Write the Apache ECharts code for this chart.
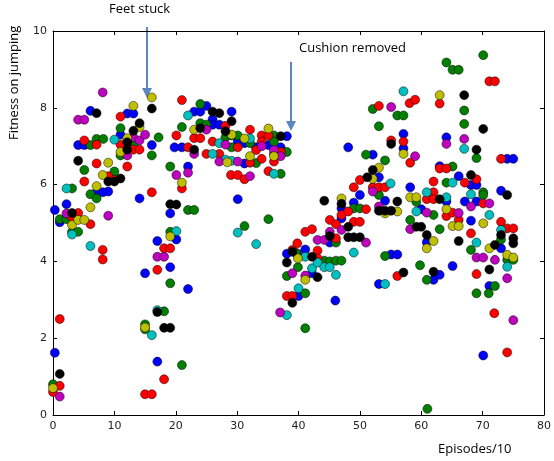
<!DOCTYPE html>
<html>
<head>
<meta charset="utf-8">
<script src="https://cdn.jsdelivr.net/npm/echarts@6/dist/echarts.min.js"></script>
<style>html,body{margin:0;padding:0;background:#fff}#c{width:554px;height:461px}</style>
</head>
<body>
<div id="c"></div>
<script>
const xTicks = [0, 10, 20, 30, 40, 50, 60, 70, 80];
const yTicks = [0, 2, 4, 6, 8, 10];
const xLabel = 'Episodes/10';
const yLabel = 'Fitness on jumping';
const note1 = 'Feet stuck';
const note2 = 'Cushion removed';

const blue = [[0.3,5.34],[0.3,1.62],[1.1,5.02],[2.2,5.49],[3.1,5.04],[4.1,7.03],[5.1,7.03],[6.1,7.92],[7.1,5.8],[8.1,5.8],[9,5.82],[11,7.3],[12.1,7.85],[13.1,7.85],[14.1,5.64],[15,3.69],[16.1,7.03],[17,4.53],[17,1.39],[19.1,5.25],[19.1,3.85],[19.8,6.97],[21,6.97],[20.1,4.57],[22,6.47],[22,3.28],[23,7.9],[24,7.9],[25,8.05],[26,7.7],[26,7.56],[27.1,7.56],[29.1,7.9],[30.1,7.12],[30.1,5.62],[31.2,7.08],[31.2,6.55],[33.1,6.97],[35.1,7.03],[37.1,6.97],[38.1,7.26],[38.1,4.2],[39.8,4.2],[40,3.1],[41.1,4.31],[42.2,3.69],[45.1,4.49],[46,2.98],[47,5.38],[47,5.12],[48.1,6.97],[49,5.53],[50,5.73],[52.1,6.78],[53.1,6.19],[53.1,3.41],[54.1,5.58],[55.1,4.18],[56.1,4.18],[57.1,7.32],[57.1,6.94],[58.2,5.93],[60,5.36],[60.9,4.5],[62,3.52],[63,6.48],[63,3.65],[64.1,7.23],[64.1,5.56],[65.1,3.88],[66.1,6.22],[67.1,5.56],[68.1,5.99],[69,5.99],[68.1,5.06],[69,5.56],[70.1,1.55],[71.1,3.36],[73,5.84],[73,4.34],[74,6.67],[75,6.67]];
const green = [[0,0.8],[1.1,5.1],[2.2,5.1],[3.1,5.9],[3.1,4.77],[4.1,4.77],[5.1,6.38],[6.1,7.03],[6.1,5.75],[7.1,7.19],[7.1,5.64],[8.2,7.19],[10,6.34],[11,7.47],[11,6.76],[12.1,7.03],[13.1,7.03],[15,2.36],[15,2.23],[16.1,6.76],[17.2,7.23],[18.1,2.7],[19.1,6.47],[19.1,4.77],[19.1,3.43],[21,7.5],[21,1.3],[22,5.34],[23,5.34],[24,8.1],[24,7.6],[25,7.56],[28.1,7.23],[29.1,7.28],[30.1,7.28],[29.1,6.97],[31.2,4.92],[32.1,7.08],[33.1,6.56],[35.1,5.1],[36,7.28],[36,7.12],[37.1,6.28],[38.1,6.85],[38.1,3.62],[39.6,4.22],[39.9,3.85],[41.1,3.17],[41.1,2.26],[44.2,4.02],[45.1,4.0],[46.1,4.49],[46.1,4.02],[47,4.02],[49,5.38],[50,5.38],[51,6.78],[52.1,7.97],[53.1,7.52],[53.1,5.73],[54.1,6.63],[54.1,4.14],[56.1,7.8],[57.1,7.8],[58.2,5.08],[59.2,5.55],[59.8,3.9],[61,0.16],[60.9,3.52],[62,5.21],[63,4.84],[64.1,9.18],[64.1,6.05],[65.1,8.99],[65.1,6.47],[66.1,8.99],[67,7.93],[67,7.58],[68.1,4.3],[69,6.69],[69,3.17],[70.1,9.37],[70.1,5.8],[70.1,5.73],[71,3.17],[72,3.36],[73,4.57],[74,4.04],[75,4.04]];
const red = [[0,0.6],[1.1,2.5],[1.1,0.76],[3.1,5.15],[4.1,5.26],[5.1,7.15],[5.1,6.08],[6.1,4.97],[7.1,7.04],[7.1,6.55],[8.1,4.3],[8.1,4.05],[9,6.22],[10,6.12],[11,7.77],[11,7.04],[12.1,6.47],[13.1,6.91],[14.1,6.91],[15,0.54],[16.1,5.8],[16.1,0.54],[17,3.78],[18.1,4.34],[18.1,0.93],[19.1,4.34],[20.1,7.28],[21,8.2],[21,5.9],[22,6.97],[23,7.21],[24,7.21],[25,6.8],[26,7.12],[27.1,6.8],[28.1,7.53],[29,6.25],[30.1,6.25],[30.1,6.97],[31.2,6.14],[32.1,7.43],[32.1,6.57],[33.1,6.9],[34,7.28],[34,7.12],[34,6.67],[35.1,7.28],[35.1,6.35],[36,6.8],[36,6.6],[37.1,6.85],[38.1,3.1],[39,3.1],[39,4.3],[39.8,4.47],[41.1,4.77],[42.2,4.84],[43.1,4.28],[43.1,4.08],[45.1,5.08],[46.1,4.97],[46.1,4.6],[47,5.21],[48.1,5.3],[49,5.93],[49,5.03],[50,6.12],[50,5.03],[51,5.36],[52.1,5.93],[53.1,8.05],[53.1,5.93],[54.1,5.93],[55.1,7.15],[56.1,3.62],[57.1,7.12],[58.1,8.12],[58.2,6.57],[59,8.21],[60.9,5.62],[62,6.08],[62,5.8],[62,5.62],[63,8.11],[63,6.42],[64.1,6.42],[64.1,5.18],[65.1,5.27],[66.1,5.08],[67.1,6.05],[68.1,4.73],[69,6.14],[69,3.67],[70.1,5.51],[71.1,8.69],[72,8.69],[71.9,2.65],[73,6.67],[73,5.03],[74,4.86],[75,4.86],[74,1.63]];
const cyan = [[2.2,5.9],[3.1,4.7],[6.1,4.4],[10,7.17],[16.1,2.08],[17,2.73],[20.1,4.79],[22,7.8],[26,6.8],[27.1,7.08],[28.1,6.65],[29.1,6.62],[30.1,4.75],[32.1,7.2],[33.1,4.45],[36,6.28],[38.1,2.6],[40,3.3],[41.1,4.12],[42.2,3.82],[43.1,3.97],[44.2,3.85],[45.1,3.85],[46.1,3.65],[49,4.23],[54.1,3.41],[55,6.03],[57.1,8.43],[59.2,5.3],[60.9,5.8],[64.1,5.67],[65.1,6.05],[67,6.93],[68.1,5.75],[69,4.49],[71.1,5.21],[73,4.82],[74,3.86]];
const magenta = [[1.1,0.48],[2.2,5.25],[4.1,7.69],[5.1,7.69],[8.1,8.4],[9,5.19],[12.1,6.76],[13.1,7.23],[14.1,7.15],[15,7.3],[17,4.12],[18.1,4.12],[20.1,6.25],[22,6.31],[23,6.8],[25,7.43],[27.1,6.6],[28.1,7.04],[30.1,6.6],[32.1,6.22],[34,7.0],[36,6.9],[37.1,6.74],[37,2.67],[39,3.69],[41.1,3.63],[43.1,4.56],[44.2,4.56],[45.1,4.77],[47,4.82],[51,4.49],[52.1,5.82],[53.1,5.43],[55.1,8.02],[58.2,4.84],[59,6.74],[60.9,5.27],[64.1,7.06],[66.1,5.26],[67,7.19],[68.1,5.43],[69,4.1],[70.1,4.1],[71.1,5.51],[72,4.04],[74,3.56],[75,2.47]];
const yellow = [[0,0.7],[3.1,4.95],[4.1,5.08],[5.1,5.08],[6.1,5.41],[7.1,5.96],[8.1,6.25],[9,6.57],[11,6.85],[12.1,7.21],[13.1,8.05],[14.1,7.5],[15,2.28],[16.1,8.27],[19.1,4.65],[21,6.05],[23,7.43],[28.4,6.58],[29.1,7.3],[31.2,7.2],[32.1,6.74],[35.1,7.46],[36,6.74],[39.9,4.08],[41.1,3.52],[47,5.64],[52.1,6.15],[53.1,6.44],[54.1,5.25],[56.1,5.3],[57.1,6.8],[58.2,5.67],[59.2,5.67],[60.9,4.34],[62,4.53],[63,8.33],[64.1,5.36],[65.1,4.92],[66.1,4.92],[70.1,4.99],[71.1,4.34],[74,4.17],[75,4.1]];
const black = [[1.1,1.07],[3.1,5.26],[4.1,6.62],[7.1,7.86],[9,6.08],[10,6.08],[11,6.16],[12.1,7.1],[12.1,6.91],[13.1,7.4],[14.1,7.6],[16.1,7.98],[17,2.68],[18.1,2.27],[19.1,2.27],[19.1,5.49],[20.1,5.48],[23,6.91],[24,7.47],[26,7.9],[27.1,7.86],[28.1,7.39],[29.1,7.65],[37.1,7.26],[38.1,3.97],[39,2.92],[39,4.25],[42.2,4.12],[43.1,3.59],[44.2,5.58],[45.1,4.66],[47,5.5],[48.1,4.9],[48.1,4.63],[49,4.63],[50,4.63],[51.2,6.19],[52.1,6.38],[53.1,5.32],[54.1,5.32],[55.1,5.32],[55.1,7.06],[56.1,5.56],[57.1,3.71],[59.2,4.9],[60,4.9],[60.9,4.69],[62,3.73],[63,5.62],[66.1,4.53],[67,8.33],[68.1,6.25],[69,6.91],[70.1,7.45],[71.1,3.79],[72,4.43],[73,4.69],[74,5.73],[75,4.6],[75,4.47]];

const groups = [
  ['blue', blue, '#0000ff'],
  ['green', green, '#007f00'],
  ['red', red, '#ff0000'],
  ['cyan', cyan, '#00bfbf'],
  ['magenta', magenta, '#bf00bf'],
  ['yellow', yellow, '#bfbf00'],
  ['black', black, '#000000']
];

const chart = echarts.init(document.getElementById('c'), null, {renderer: 'canvas'});
const tickFont = {fontFamily: 'DejaVu Sans', fontSize: 11, color: '#222'};
const baseAxis = {
  axisLine: {show: true, onZero: false, lineStyle: {color: '#000', width: 1}},
  axisTick: {show: true, inside: true, length: 4, lineStyle: {color: '#000'}},
  splitLine: {show: false}
};
const option = {
  animation: false,
  grid: {left: 53, right: 8, top: 31, bottom: 46},
  xAxis: [
    Object.assign({type: 'value', min: xTicks[0], max: xTicks[xTicks.length-1], interval: 10, position: 'bottom',
      axisLabel: Object.assign({margin: 6}, tickFont)}, baseAxis),
    Object.assign({type: 'value', min: xTicks[0], max: xTicks[xTicks.length-1], interval: 10, position: 'top',
      axisLabel: {show: false}}, baseAxis)
  ],
  yAxis: [
    Object.assign({type: 'value', min: yTicks[0], max: yTicks[yTicks.length-1], interval: 2, position: 'left',
      axisLabel: Object.assign({margin: 6}, tickFont)}, baseAxis),
    Object.assign({type: 'value', min: yTicks[0], max: yTicks[yTicks.length-1], interval: 2, position: 'right',
      axisLabel: {show: false}}, baseAxis)
  ],
  series: groups.map(g => ({
    name: g[0], type: 'scatter', data: g[1], symbol: 'circle', symbolSize: 9,
    xAxisIndex: 0, yAxisIndex: 0,
    itemStyle: {color: g[2], borderColor: 'rgba(0,0,0,0.7)', borderWidth: 0.7, opacity: 1}
  })),
  graphic: [
    {type: 'text', left: 6, top: 25, rotation: Math.PI/2, style: {text: yLabel, font: '13px "Open Sans", sans-serif', fill: '#000'},
     x: 8, y: 140, left: null, top: null},
    {type: 'text', x: 438, y: 443, style: {text: xLabel, font: '13px "Open Sans", sans-serif', fill: '#000'}},
    {type: 'text', x: 109, y: 3, style: {text: note1, font: '13px "Open Sans", sans-serif', fill: '#000'}},
    {type: 'text', x: 299, y: 42, style: {text: note2, font: '13px "Open Sans", sans-serif', fill: '#000'}},
    {type: 'line', shape: {x1: 147, y1: 27, x2: 147, y2: 92}, style: {stroke: '#5b87c0', lineWidth: 2}},
    {type: 'polygon', shape: {points: [[142, 88], [152, 88], [147, 98]]}, style: {fill: '#5b87c0'}},
    {type: 'line', shape: {x1: 291, y1: 62, x2: 291, y2: 125}, style: {stroke: '#5b87c0', lineWidth: 2}},
    {type: 'polygon', shape: {points: [[286, 121], [296, 121], [291, 131]]}, style: {fill: '#5b87c0'}}
  ]
};
chart.setOption(option);
</script>
</body>
</html>
